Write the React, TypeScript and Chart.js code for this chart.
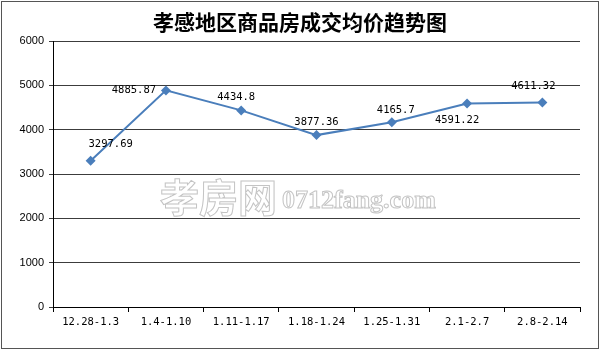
import React, { useEffect, useRef } from "react";
import { Chart, registerables } from "chart.js";

Chart.register(...registerables);

const TITLE = "孝感地区商品房成交均价趋势图";
const categories = ["12.28-1.3", "1.4-1.10", "1.11-1.17", "1.18-1.24", "1.25-1.31", "2.1-2.7", "2.8-2.14"];
const prices = [3297.69, 4885.87, 4434.8, 3877.36, 4165.7, 4591.22, 4611.32];
const priceLabels = ["3297.69", "4885.87", "4434.8", "3877.36", "4165.7", "4591.22", "4611.32"];
const yMin = 0;
const yMax = 6000;
const yStep = 1000;

// label offsets relative to each marker (style, not data)
const labelDX = [20, -32, -5, 0, 4, -10, -9];
const labelDY = [-17, 0, -13, -13, -12, 17, -16];

const LINE_COLOR = "#4a7ebb";
const MONO = "'DejaVu Sans Mono', 'Liberation Mono', monospace";

const decorPlugin = {
  id: "decor",
  beforeDatasetsDraw(chart: any) {
    const ctx = chart.ctx;
    ctx.save();
    // watermark
    ctx.strokeStyle = "#c4c4c4";
    ctx.lineWidth = 1;
    ctx.textBaseline = "alphabetic";
    ctx.textAlign = "left";
    ctx.font = "bold 39px 'Noto Sans CJK SC'";
    ctx.strokeText("孝房网", 160, 212);
    ctx.font = "bold 26px 'Liberation Serif'";
    ctx.strokeText("0712fang.com", 282, 208);
    ctx.restore();
  },
  afterDraw(chart: any) {
    const ctx = chart.ctx;
    ctx.save();
    ctx.fillStyle = "#000";
    ctx.font = "bold 21px 'Noto Sans CJK SC'";
    ctx.textAlign = "center";
    ctx.textBaseline = "middle";
    ctx.fillText(TITLE, 300, 22);
    ctx.strokeStyle = "#555";
    ctx.lineWidth = 1;
    ctx.strokeRect(1.5, 1.5, 597, 347);
    // point labels
    const meta = chart.getDatasetMeta(0);
    ctx.font = "10.5px " + MONO;
    ctx.fillStyle = "#000";
    meta.data.forEach((pt: any, i: number) => {
      ctx.fillText(priceLabels[i], pt.x + labelDX[i], pt.y + labelDY[i]);
    });
    ctx.restore();
  },
};

export default function App() {
  const ref = useRef<HTMLCanvasElement | null>(null);
  useEffect(() => {
    document.body.style.margin = "0";
    const chart = new Chart(ref.current as HTMLCanvasElement, {
      type: "line",
      data: {
        labels: categories,
        datasets: [
          {
            data: prices,
            borderColor: LINE_COLOR,
            backgroundColor: LINE_COLOR,
            borderWidth: 2,
            pointStyle: "rectRot",
            pointRadius: 5,
            pointBorderWidth: 0,
            tension: 0,
          },
        ],
      },
      options: {
        animation: false,
        responsive: false,
        devicePixelRatio: 1,
        layout: { padding: { top: 41, right: 20, left: 0, bottom: 0 } },
        plugins: { legend: { display: false }, title: { display: false }, tooltip: { enabled: false } },
        scales: {
          x: {
            offset: true,
            afterFit: (s: any) => {
              s.height = 43;
            },
            grid: {
              offset: true,
              drawOnChartArea: false,
              drawTicks: true,
              tickLength: 5,
              color: "#000",
            },
            border: { display: true, color: "#000", width: 1 },
            ticks: {
              color: "#000",
              font: { family: MONO, size: 10.5 },
              padding: 4,
              maxRotation: 0,
              autoSkip: false,
            },
          },
          y: {
            min: yMin,
            max: yMax,
            afterFit: (s: any) => {
              s.width = 53;
            },
            grid: { color: "#3c3c3c", lineWidth: 1, tickLength: 4 },
            border: { display: true, color: "#000", width: 1 },
            ticks: {
              stepSize: yStep,
              color: "#000",
              padding: 5,
              font: { family: "'Liberation Sans', Arial", size: 11 },
              callback: (v: any) => String(v),
            },
          },
        },
      },
      plugins: [decorPlugin],
    });
    return () => chart.destroy();
  }, []);
  return (
    <div style={{ position: "absolute", left: 0, top: 0, width: 600, height: 350, background: "#fff" }}>
      <canvas ref={ref} width={600} height={350} style={{ width: 600, height: 350 }} />
    </div>
  );
}
